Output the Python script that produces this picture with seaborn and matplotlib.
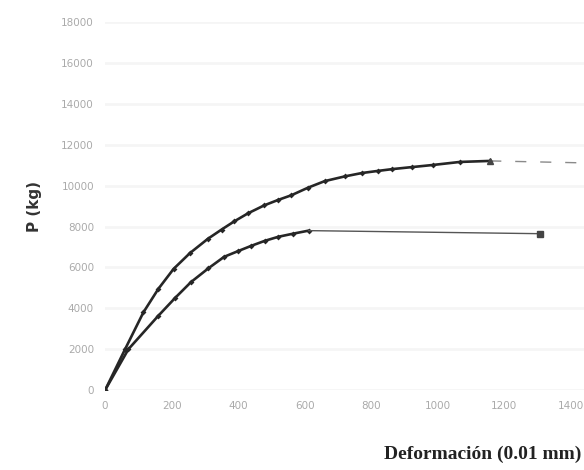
import numpy as np
import pandas as pd
import seaborn as sns
import matplotlib.pyplot as plt

# curva superior
x_sup = [0, 60, 115, 160, 206, 255, 309, 350, 388, 430, 479, 520, 560, 610,
         660, 720, 773, 820, 864, 924, 985, 1067, 1158]
y_sup = [0, 2000, 3800, 4950, 5930, 6700, 7400, 7850, 8250, 8650, 9040, 9300,
         9530, 9900, 10220, 10450, 10620, 10720, 10810, 10910, 11010, 11160, 11210]
x_sup_cola = [1158, 1450]
y_sup_cola = [11210, 11110]

# curva inferior
x_inf = [0, 70, 158, 210, 258, 310, 358, 400, 440, 480, 521, 565, 612]
y_inf = [0, 2000, 3600, 4500, 5280, 5950, 6520, 6800, 7060, 7300, 7500, 7650, 7800]
x_inf_cola = [612, 1309]
y_inf_cola = [7800, 7650]

x_ticks = [0, 200, 400, 600, 800, 1000, 1200, 1400]
y_ticks = [0, 2000, 4000, 6000, 8000, 10000, 12000, 14000, 16000, 18000]

sns.set_style("white")

fig = plt.figure(figsize=(5.84, 4.70), dpi=100)
ax = fig.add_axes([0.18, 0.17, 0.82, 0.783])

df_sup = pd.DataFrame({"x": x_sup, "y": y_sup})
df_inf = pd.DataFrame({"x": x_inf, "y": y_inf})

sns.lineplot(data=df_sup, x="x", y="y", ax=ax, sort=False, color="#262626",
             linewidth=1.9, marker="D", markersize=3, markeredgewidth=0)
sns.lineplot(data=df_inf, x="x", y="y", ax=ax, sort=False, color="#262626",
             linewidth=1.9, marker="D", markersize=3, markeredgewidth=0)

sns.lineplot(x=x_sup_cola, y=y_sup_cola, ax=ax, color="#8a8a8a",
             linewidth=1.0, linestyle=(0, (8, 10)))
ax.plot([x_sup_cola[0]], [y_sup_cola[0]], marker="^", color="#444444", markersize=5)
sns.lineplot(x=x_inf_cola, y=y_inf_cola, ax=ax, color="#555555",
             linewidth=1.0)
ax.plot([x_inf_cola[-1]], [y_inf_cola[-1]], marker="s", color="#444444", markersize=5)

ax.set_xlim(0, 1440)
ax.set_ylim(0, 18000)
ax.set_xticks(x_ticks)
ax.set_yticks(y_ticks)
ax.tick_params(axis="both", labelsize=7.5, colors="#aaaaaa", length=0, pad=8)
ax.yaxis.grid(True, color="#f5f5f5", linewidth=2)
for s in ax.spines.values():
    s.set_visible(False)

ax.set_xlabel("")
ax.set_ylabel("P (kg)", fontsize=11, fontweight="bold", color="#333333", labelpad=14)
fig.text(0.995, 0.015, "Deformación (0.01 mm)", ha="right", va="bottom",
         fontsize=14, fontweight="bold", family="Liberation Serif", color="#222222")

fig.savefig("out.png", dpi=100)
